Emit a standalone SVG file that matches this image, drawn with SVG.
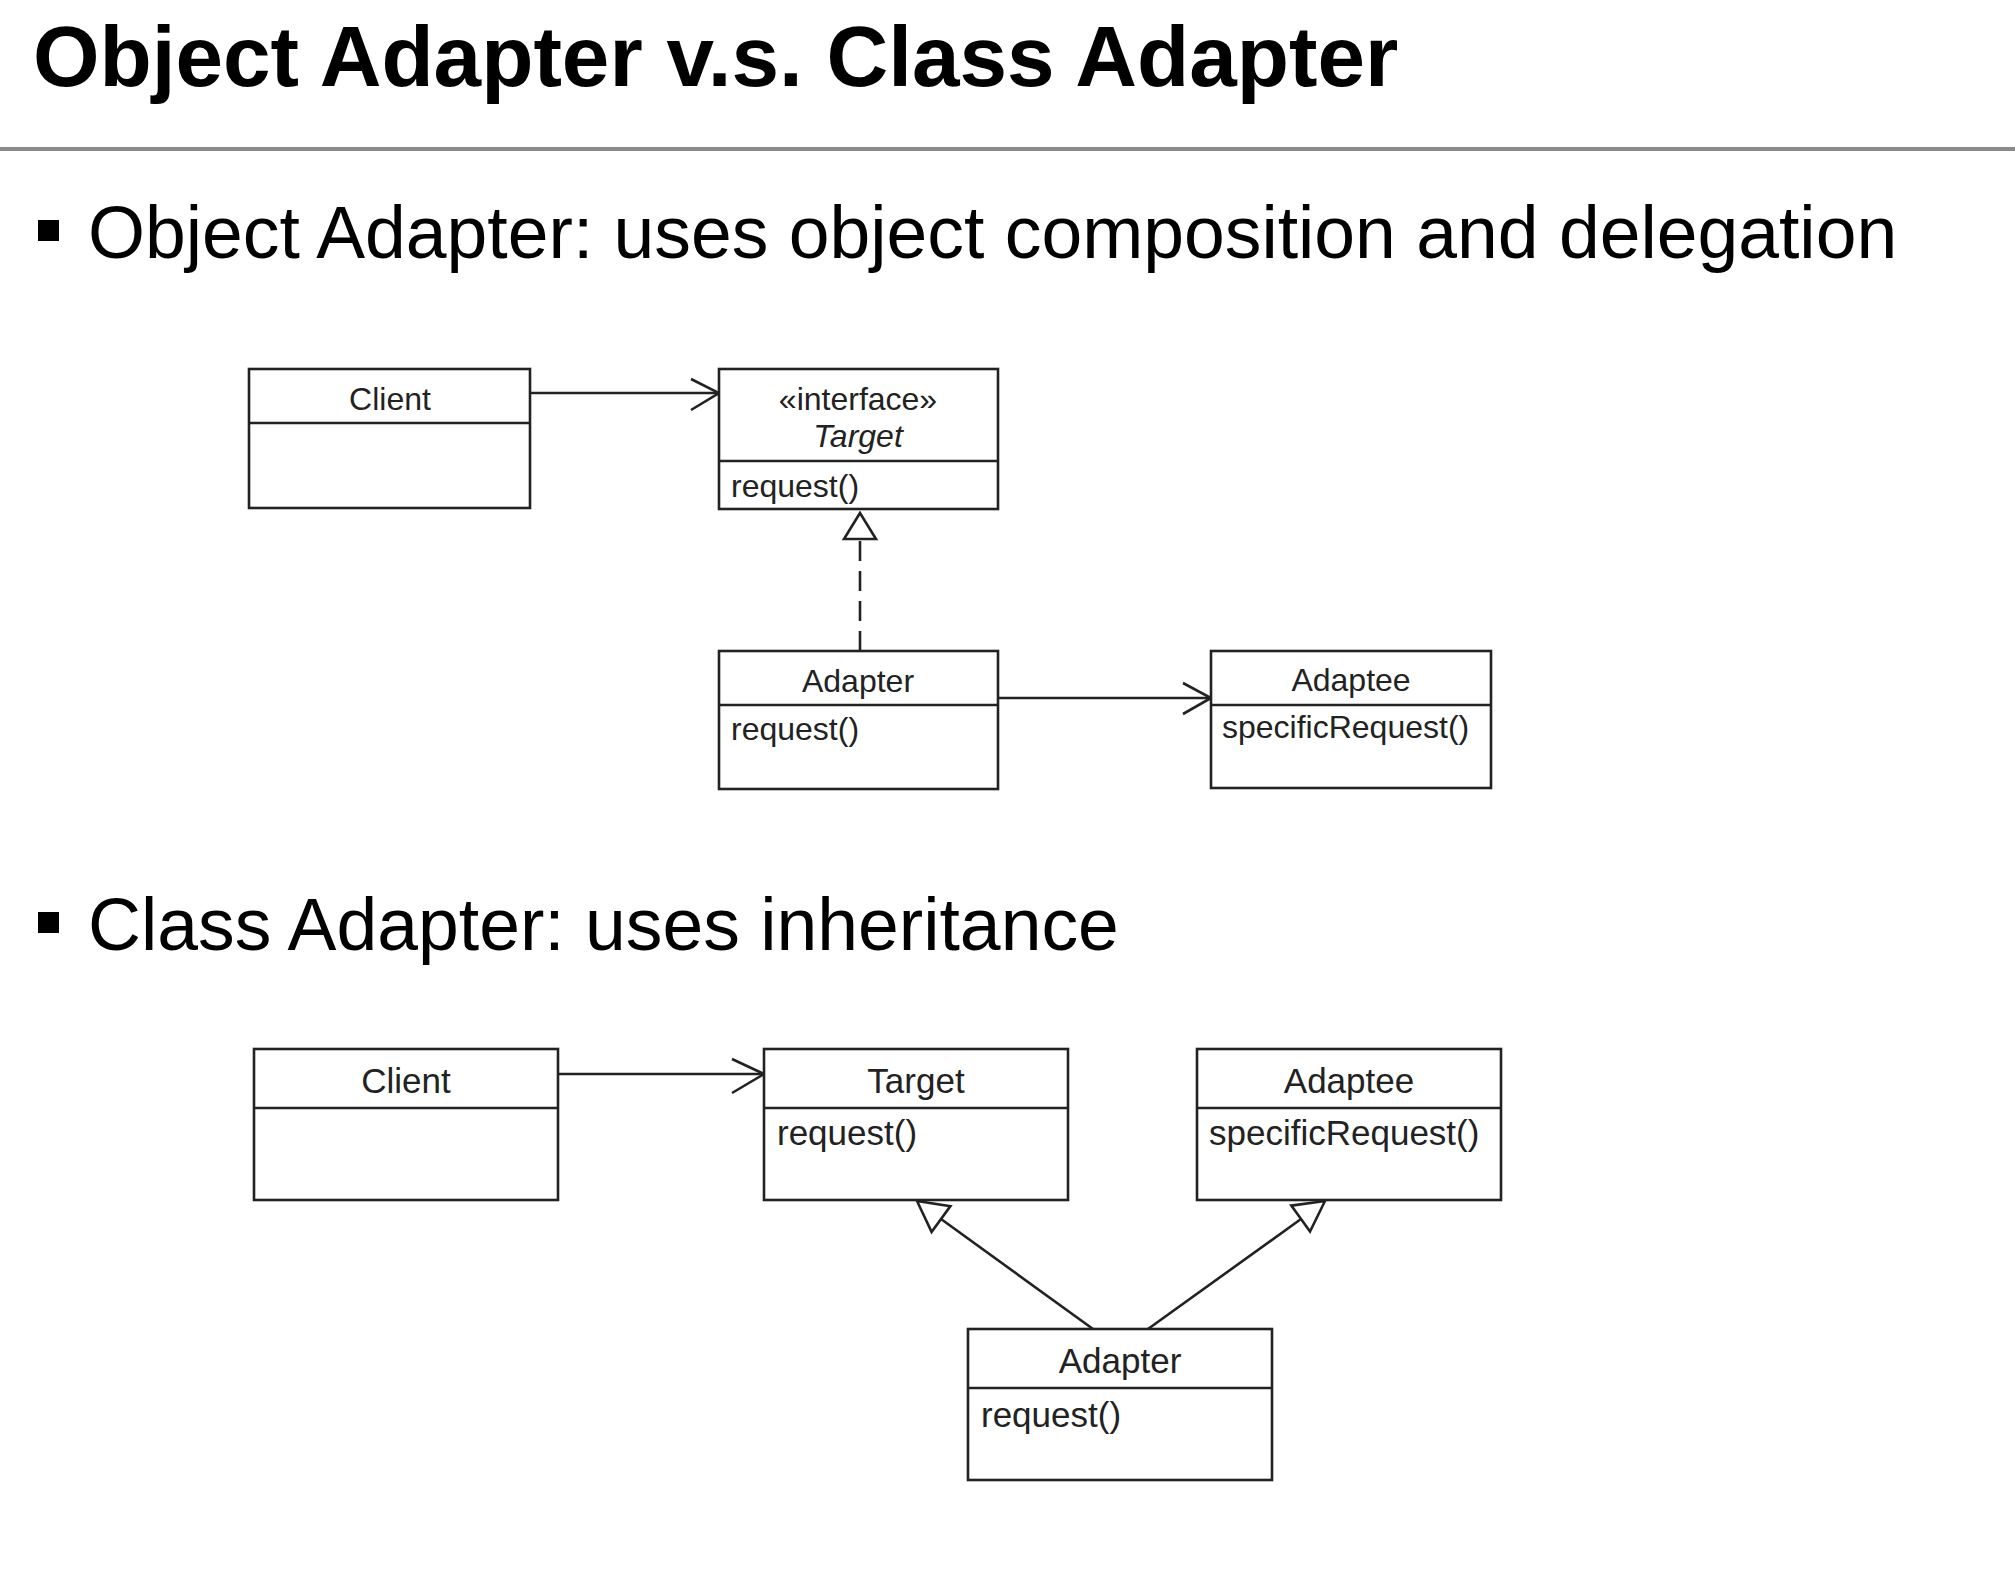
<svg xmlns="http://www.w3.org/2000/svg" width="2015" height="1584" viewBox="0 0 2015 1584">
<style>
text{font-family:"Liberation Sans",Arial,sans-serif;fill:#000}
.title{font-size:85.5px;font-weight:bold}
.bul{font-size:73.3px}
.u{font-size:32px;fill:#222}
.l{font-size:35px;fill:#222}
.c{text-anchor:middle}
.box{fill:#fff;stroke:#222;stroke-width:2.6}
.div{stroke:#222;stroke-width:2.6}
.ln{stroke:#222;stroke-width:2.6;fill:none}
.dash{stroke-dasharray:20 10}
.head{fill:#fff;stroke:#222;stroke-width:2.6;stroke-linejoin:miter}
</style>
<rect width="2015" height="1584" fill="#fff"/>
<g id="header">
<text class="title" x="33" y="86">Object Adapter v.s. Class Adapter</text>
<rect x="0" y="147" width="2015" height="4" fill="#8a8a8a"/>
<rect x="38" y="220" width="21" height="21" fill="#000"/>
<text class="bul" x="88" y="258">Object Adapter: uses object composition and delegation</text>
<rect x="38" y="912" width="21" height="21" fill="#000"/>
<text class="bul" x="88" y="950">Class Adapter: uses inheritance</text>
</g>
<g id="connectors">
<line class="ln" x1="530" y1="393" x2="718" y2="393"/>
<polyline class="ln" points="691,379 719,393 691,410"/>
<line class="ln dash" x1="860" y1="651" x2="860" y2="539"/>
<polygon class="head" points="860,513 844,539 876,539"/>
<line class="ln" x1="998" y1="698" x2="1210" y2="698"/>
<polyline class="ln" points="1183,683 1211,698 1183,714"/>
<line class="ln" x1="558" y1="1074" x2="763" y2="1074"/>
<polyline class="ln" points="732,1059 764,1074 732,1093"/>
<line class="ln" x1="1093" y1="1329" x2="941" y2="1219"/>
<polygon class="head" points="917,1201 950.4,1206.1 931.6,1231.9"/>
<line class="ln" x1="1148" y1="1329" x2="1301" y2="1219"/>
<polygon class="head" points="1325,1201 1310,1231.6 1291.3,1205.6"/>
</g>
<g id="obj-client">
<rect class="box" x="249" y="369" width="281" height="139"/>
<line class="div" x1="249" y1="423" x2="530" y2="423"/>
<text class="u c" x="390" y="410">Client</text>
</g>
<g id="obj-target">
<rect class="box" x="719" y="369" width="279" height="140"/>
<line class="div" x1="719" y1="461" x2="998" y2="461"/>
<text class="u c" x="858" y="410">«interface»</text>
<text class="u c" x="858" y="447" font-style="italic">Target</text>
<text class="u" x="731" y="497">request()</text>
</g>
<g id="obj-adapter">
<rect class="box" x="719" y="651" width="279" height="138"/>
<line class="div" x1="719" y1="705" x2="998" y2="705"/>
<text class="u c" x="858" y="692">Adapter</text>
<text class="u" x="731" y="740">request()</text>
</g>
<g id="obj-adaptee">
<rect class="box" x="1211" y="651" width="280" height="137"/>
<line class="div" x1="1211" y1="705" x2="1491" y2="705"/>
<text class="u c" x="1351" y="691">Adaptee</text>
<text class="u" x="1222" y="738">specificRequest()</text>
</g>
<g id="cls-client">
<rect class="box" x="254" y="1049" width="304" height="151"/>
<line class="div" x1="254" y1="1108" x2="558" y2="1108"/>
<text class="l c" x="406" y="1093">Client</text>
</g>
<g id="cls-target">
<rect class="box" x="764" y="1049" width="304" height="151"/>
<line class="div" x1="764" y1="1108" x2="1068" y2="1108"/>
<text class="l c" x="916" y="1093">Target</text>
<text class="l" x="777" y="1145">request()</text>
</g>
<g id="cls-adaptee">
<rect class="box" x="1197" y="1049" width="304" height="151"/>
<line class="div" x1="1197" y1="1108" x2="1501" y2="1108"/>
<text class="l c" x="1349" y="1093">Adaptee</text>
<text class="l" x="1209" y="1145">specificRequest()</text>
</g>
<g id="cls-adapter">
<rect class="box" x="968" y="1329" width="304" height="151"/>
<line class="div" x1="968" y1="1388" x2="1272" y2="1388"/>
<text class="l c" x="1120" y="1373">Adapter</text>
<text class="l" x="981" y="1427">request()</text>
</g>
</svg>
